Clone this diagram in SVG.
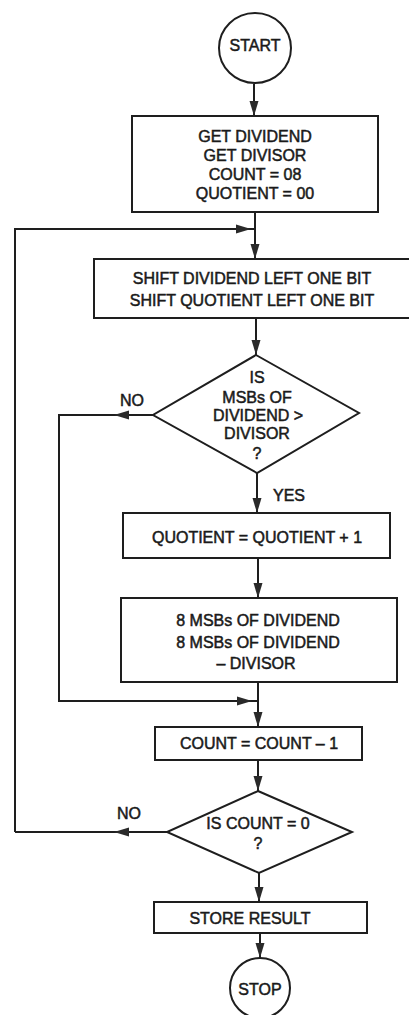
<svg xmlns="http://www.w3.org/2000/svg" width="409" height="1015" viewBox="0 0 409 1015">
<defs>
<marker id="ah" markerUnits="userSpaceOnUse" markerWidth="16" markerHeight="10" refX="15" refY="5" orient="auto">
<path d="M0,0.5 L15,5 L0,9.5 z" fill="#2a2a2a"/>
</marker>
</defs>
<style>
.shape{fill:#fff;stroke:#1e1e1e;stroke-width:2}
.ln{fill:none;stroke:#1e1e1e;stroke-width:2}
text{font-family:"Liberation Sans",Arial,sans-serif;font-size:16px;fill:#1a1a1a;stroke:#1a1a1a;stroke-width:0.5;text-anchor:middle}
.lbl{text-anchor:start}
</style>
<rect width="409" height="1015" fill="#fff"/>
<g id="connectors">
<path class="ln" d="M254,84 L254,116" marker-end="url(#ah)"/>
<path class="ln" d="M255,212 L255,259" marker-end="url(#ah)"/>
<path class="ln" d="M15,832 L15,229 L251,229" marker-end="url(#ah)"/>
<path class="ln" d="M251,229 L255,229"/>
<path class="ln" d="M256,318 L256,355" marker-end="url(#ah)"/>
<path class="ln" d="M153,415 L114,415" marker-end="url(#ah)"/>
<path class="ln" d="M114,415 L59,415 L59,701 L252,701" marker-end="url(#ah)"/>
<path class="ln" d="M252,701 L258,701"/>
<path class="ln" d="M257,473 L257,513" marker-end="url(#ah)"/>
<path class="ln" d="M258,558 L258,598" marker-end="url(#ah)"/>
<path class="ln" d="M258,682 L258,727" marker-end="url(#ah)"/>
<path class="ln" d="M258,760 L258,791" marker-end="url(#ah)"/>
<path class="ln" d="M167,832 L114,832" marker-end="url(#ah)"/>
<path class="ln" d="M114,832 L15,832"/>
<path class="ln" d="M259,873 L259,902" marker-end="url(#ah)"/>
<path class="ln" d="M260,933 L260,958" marker-end="url(#ah)"/>
<text class="lbl" x="120" y="406">NO</text>
<text class="lbl" x="273" y="501">YES</text>
<text class="lbl" x="117" y="819">NO</text>
</g>
<g id="start">
<ellipse class="shape" cx="255" cy="48" rx="36" ry="35"/>
<text x="255" y="51">START</text>
</g>
<g id="init">
<rect class="shape" x="132" y="116" width="246" height="96"/>
<text x="255" y="142">GET DIVIDEND</text>
<text x="255" y="161">GET DIVISOR</text>
<text x="255" y="180">COUNT = 08</text>
<text x="255" y="199">QUOTIENT = 00</text>
</g>
<g id="shift">
<rect class="shape" x="94" y="259" width="330" height="59"/>
<text x="252" y="284">SHIFT DIVIDEND LEFT ONE BIT</text>
<text x="252" y="306">SHIFT QUOTIENT LEFT ONE BIT</text>
</g>
<g id="cmp">
<path class="shape" d="M256,355 L359,413 L257,473 L153,415 z"/>
<text x="257" y="383">IS</text>
<text x="257" y="403">MSBs OF</text>
<text x="258" y="421">DIVIDEND &gt;</text>
<text x="257" y="439">DIVISOR</text>
<text x="257" y="459">?</text>
</g>
<g id="incq">
<rect class="shape" x="123" y="513" width="267" height="45"/>
<text x="257" y="543">QUOTIENT = QUOTIENT + 1</text>
</g>
<g id="sub">
<rect class="shape" x="121" y="598" width="276" height="84"/>
<text x="258" y="626">8 MSBs OF DIVIDEND</text>
<text x="258" y="648">8 MSBs OF DIVIDEND</text>
<text x="256" y="669">– DIVISOR</text>
</g>
<g id="dec">
<rect class="shape" x="155" y="727" width="207" height="33"/>
<text x="259" y="749">COUNT = COUNT – 1</text>
</g>
<g id="zero">
<path class="shape" d="M258,791 L352,832 L259,873 L167,832 z"/>
<text x="258" y="829">IS COUNT = 0</text>
<text x="258" y="849">?</text>
</g>
<g id="store">
<rect class="shape" x="154" y="902" width="213" height="31"/>
<text x="250" y="924">STORE RESULT</text>
</g>
<g id="stop">
<circle class="shape" cx="260" cy="988" r="30"/>
<text x="260" y="995">STOP</text>
</g>
</svg>
